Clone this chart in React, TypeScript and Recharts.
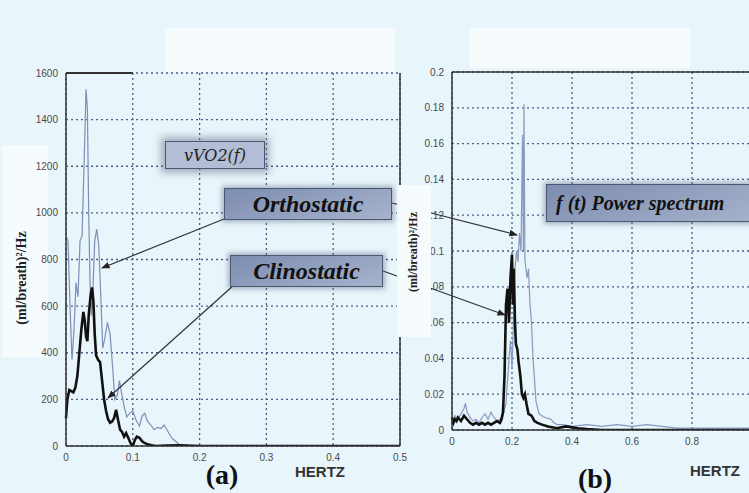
import React from "react";
import { LineChart, Line, XAxis, YAxis, CartesianGrid, ReferenceLine } from "recharts";

// panel (a): vVO2(f) spectra, frequency in Hz
const orthoA = [
  { f: 0, v: 900 }, { f: 0.003, v: 880 }, { f: 0.006, v: 600 }, { f: 0.009, v: 370 },
  { f: 0.012, v: 500 }, { f: 0.015, v: 700 }, { f: 0.018, v: 640 }, { f: 0.021, v: 880 },
  { f: 0.024, v: 900 }, { f: 0.027, v: 1200 }, { f: 0.03, v: 1530 }, { f: 0.032, v: 1450 },
  { f: 0.034, v: 1000 }, { f: 0.036, v: 700 }, { f: 0.038, v: 560 }, { f: 0.04, v: 650 },
  { f: 0.043, v: 880 }, { f: 0.046, v: 930 }, { f: 0.049, v: 860 }, { f: 0.052, v: 650 },
  { f: 0.055, v: 420 }, { f: 0.058, v: 460 }, { f: 0.062, v: 530 }, { f: 0.066, v: 480 },
  { f: 0.07, v: 330 }, { f: 0.073, v: 200 }, { f: 0.077, v: 220 }, { f: 0.08, v: 280 },
  { f: 0.083, v: 230 }, { f: 0.087, v: 170 }, { f: 0.091, v: 125 }, { f: 0.095, v: 140 },
  { f: 0.1, v: 150 }, { f: 0.105, v: 110 }, { f: 0.11, v: 85 }, { f: 0.114, v: 130 },
  { f: 0.118, v: 140 }, { f: 0.122, v: 105 }, { f: 0.127, v: 90 }, { f: 0.132, v: 70 },
  { f: 0.137, v: 80 }, { f: 0.142, v: 75 }, { f: 0.147, v: 90 }, { f: 0.151, v: 70 },
  { f: 0.156, v: 45 }, { f: 0.16, v: 30 }, { f: 0.165, v: 18 }, { f: 0.17, v: 5 },
  { f: 0.18, v: 2 }, { f: 0.2, v: 0 }, { f: 0.3, v: 0 }, { f: 0.4, v: 0 }, { f: 0.5, v: 0 },
];

const clinoA = [
  { f: 0, v: 120 }, { f: 0.002, v: 200 }, { f: 0.005, v: 240 }, { f: 0.008, v: 235 },
  { f: 0.011, v: 230 }, { f: 0.014, v: 250 }, { f: 0.017, v: 300 }, { f: 0.02, v: 400 },
  { f: 0.023, v: 500 }, { f: 0.026, v: 575 }, { f: 0.028, v: 540 }, { f: 0.03, v: 470 },
  { f: 0.032, v: 450 }, { f: 0.034, v: 560 }, { f: 0.037, v: 650 }, { f: 0.039, v: 680 },
  { f: 0.041, v: 620 }, { f: 0.043, v: 480 }, { f: 0.045, v: 390 }, { f: 0.048, v: 370 },
  { f: 0.051, v: 360 }, { f: 0.054, v: 280 }, { f: 0.057, v: 200 }, { f: 0.06, v: 150 },
  { f: 0.063, v: 115 }, { f: 0.066, v: 100 }, { f: 0.069, v: 105 }, { f: 0.072, v: 120 },
  { f: 0.075, v: 155 }, { f: 0.078, v: 110 }, { f: 0.081, v: 70 }, { f: 0.084, v: 60 },
  { f: 0.087, v: 40 }, { f: 0.09, v: 55 }, { f: 0.094, v: 30 }, { f: 0.097, v: 10 },
  { f: 0.1, v: 0 }, { f: 0.103, v: 25 }, { f: 0.106, v: 40 }, { f: 0.11, v: 35 },
  { f: 0.114, v: 20 }, { f: 0.118, v: 12 }, { f: 0.122, v: 8 }, { f: 0.128, v: 3 },
  { f: 0.135, v: 0 }, { f: 0.15, v: 2 }, { f: 0.17, v: 3 }, { f: 0.2, v: 0 }, { f: 0.5, v: 0 },
];

// panel (b): f(t) power spectra
const orthoB = [
  { f: 0, v: 0.004 }, { f: 0.01, v: 0.008 }, { f: 0.02, v: 0.006 }, { f: 0.03, v: 0.009 },
  { f: 0.04, v: 0.012 }, { f: 0.045, v: 0.015 }, { f: 0.05, v: 0.01 }, { f: 0.06, v: 0.007 },
  { f: 0.07, v: 0.005 }, { f: 0.08, v: 0.006 }, { f: 0.09, v: 0.004 }, { f: 0.1, v: 0.007 },
  { f: 0.11, v: 0.009 }, { f: 0.12, v: 0.006 }, { f: 0.13, v: 0.01 }, { f: 0.14, v: 0.007 },
  { f: 0.15, v: 0.005 }, { f: 0.16, v: 0.006 }, { f: 0.17, v: 0.008 }, { f: 0.18, v: 0.015 },
  { f: 0.19, v: 0.04 }, { f: 0.195, v: 0.05 }, { f: 0.2, v: 0.035 }, { f: 0.205, v: 0.06 },
  { f: 0.21, v: 0.09 }, { f: 0.215, v: 0.1 }, { f: 0.22, v: 0.094 }, { f: 0.225, v: 0.11 },
  { f: 0.23, v: 0.1 }, { f: 0.235, v: 0.165 }, { f: 0.238, v: 0.1 }, { f: 0.24, v: 0.182 },
  { f: 0.243, v: 0.095 }, { f: 0.25, v: 0.085 }, { f: 0.255, v: 0.09 }, { f: 0.26, v: 0.07 },
  { f: 0.265, v: 0.06 }, { f: 0.27, v: 0.04 }, { f: 0.275, v: 0.028 }, { f: 0.28, v: 0.016 },
  { f: 0.29, v: 0.009 }, { f: 0.3, v: 0.008 }, { f: 0.31, v: 0.007 }, { f: 0.32, v: 0.0065 },
  { f: 0.33, v: 0.006 }, { f: 0.34, v: 0.004 }, { f: 0.35, v: 0.003 }, { f: 0.37, v: 0.003 },
  { f: 0.4, v: 0.002 }, { f: 0.45, v: 0.003 }, { f: 0.5, v: 0.002 }, { f: 0.55, v: 0.003 },
  { f: 0.6, v: 0.002 }, { f: 0.65, v: 0.003 }, { f: 0.7, v: 0.002 }, { f: 0.75, v: 0.001 },
  { f: 0.8, v: 0.001 }, { f: 1, v: 0.001 },
];

const clinoB = [
  { f: 0, v: 0.007 }, { f: 0.005, v: 0.004 }, { f: 0.01, v: 0.006 }, { f: 0.015, v: 0.005 },
  { f: 0.02, v: 0.007 }, { f: 0.03, v: 0.005 }, { f: 0.04, v: 0.008 }, { f: 0.05, v: 0.006 },
  { f: 0.06, v: 0.004 }, { f: 0.07, v: 0.003 }, { f: 0.08, v: 0.004 }, { f: 0.09, v: 0.003 },
  { f: 0.1, v: 0.004 }, { f: 0.11, v: 0.003 }, { f: 0.12, v: 0.004 }, { f: 0.13, v: 0.003 },
  { f: 0.14, v: 0.004 }, { f: 0.15, v: 0.005 }, { f: 0.16, v: 0.004 }, { f: 0.165, v: 0.006 },
  { f: 0.17, v: 0.01 }, { f: 0.175, v: 0.03 }, { f: 0.18, v: 0.07 }, { f: 0.185, v: 0.079 },
  { f: 0.19, v: 0.06 }, { f: 0.195, v: 0.085 }, { f: 0.2, v: 0.098 }, { f: 0.203, v: 0.07 },
  { f: 0.206, v: 0.09 }, { f: 0.21, v: 0.06 }, { f: 0.213, v: 0.048 }, { f: 0.218, v: 0.045 },
  { f: 0.222, v: 0.038 }, { f: 0.228, v: 0.03 }, { f: 0.233, v: 0.02 }, { f: 0.238, v: 0.018 },
  { f: 0.243, v: 0.02 }, { f: 0.248, v: 0.015 }, { f: 0.255, v: 0.009 }, { f: 0.265, v: 0.008 },
  { f: 0.275, v: 0.005 }, { f: 0.285, v: 0.004 }, { f: 0.3, v: 0.003 }, { f: 0.32, v: 0.002 },
  { f: 0.35, v: 0.001 }, { f: 0.38, v: 0.002 }, { f: 0.42, v: 0.001 }, { f: 0.45, v: 0.0005 },
  { f: 0.5, v: 0 }, { f: 1, v: 0 },
];

const xTicksA = [0, 0.1, 0.2, 0.3, 0.4, 0.5];
const yTicksA = [0, 200, 400, 600, 800, 1000, 1200, 1400, 1600];
const xTicksB = [0, 0.2, 0.4, 0.6, 0.8];
const yTicksB = [0, 0.02, 0.04, 0.06, 0.08, 0.1, 0.12, 0.14, 0.16, 0.18, 0.2];

const tickFont = '"Liberation Sans Narrow", "Liberation Sans", Arial, sans-serif';
const serif = '"Liberation Serif", "Times New Roman", serif';
const tick = { fontSize: 10, fill: "#4a4a4a", fontFamily: tickFont };
const gridColor = "#4c5d86";
const axisLine = { stroke: "#333", strokeWidth: 1.5 };
const fmt = (v: number) => String(Number(v.toFixed(2)));

const boxBase: React.CSSProperties = {
  position: "absolute",
  background: "linear-gradient(160deg, #7d8db0, #a7b3cd)",
  border: "1px solid #4d5870",
  boxShadow: "0 0 5px 2px rgba(80,92,125,0.45)",
  display: "flex",
  alignItems: "center",
  justifyContent: "center",
  fontFamily: serif,
  fontWeight: "bold",
  fontStyle: "italic",
  color: "#111",
  whiteSpace: "nowrap",
  boxSizing: "border-box",
};

export default function App() {
  return (
    <div
      style={{
        position: "fixed",
        left: 0,
        top: 0,
        width: 749,
        height: 493,
        overflow: "hidden",
        background: "#e8f5fa",
      }}
    >
      <div style={{ position: "absolute", left: 165, top: 28, width: 230, height: 44, background: "#f6fcfe" }} />
      <div style={{ position: "absolute", left: 470, top: 28, width: 220, height: 40, background: "#f6fcfe" }} />
      <div style={{ position: "absolute", left: 2, top: 145, width: 46, height: 212, background: "#f6fcfe" }} />

      <div style={{ position: "absolute", left: 0, top: 0 }}>
        <LineChart width={420} height={493} margin={{ top: 73, right: 20, bottom: 27, left: 26 }}>
          <CartesianGrid stroke={gridColor} strokeDasharray="2 3" strokeWidth={1.3} />
          <XAxis
            dataKey="f"
            type="number"
            domain={[0, 0.5]}
            ticks={xTicksA}
            tickFormatter={fmt}
            tick={tick}
            tickLine={false}
            axisLine={axisLine}
            height={20}
            allowDuplicatedCategory={false}
          />
          <YAxis
            type="number"
            domain={[0, 1600]}
            ticks={yTicksA}
            tick={tick}
            tickLine={false}
            axisLine={axisLine}
            width={40}
            allowDataOverflow
          />
          <ReferenceLine x={0.5} stroke="#333" strokeWidth={1.5} />
          <ReferenceLine segment={[{ x: 0, y: 1600 }, { x: 0.1, y: 1600 }]} stroke="#333" strokeWidth={2} />
          <Line data={orthoA} dataKey="v" type="linear" stroke="#7e8eb6" strokeWidth={1.2} dot={false} isAnimationActive={false} />
          <Line data={clinoA} dataKey="v" type="linear" stroke="#111" strokeWidth={2.6} dot={false} isAnimationActive={false} />
        </LineChart>
      </div>

      <div style={{ position: "absolute", left: 400, top: 0 }}>
        <LineChart width={360} height={493} margin={{ top: 72, right: 8, bottom: 43, left: 12 }}>
          <CartesianGrid stroke={gridColor} strokeDasharray="2 3" strokeWidth={1.3} />
          <XAxis
            dataKey="f"
            type="number"
            domain={[0, 1]}
            ticks={xTicksB}
            tickFormatter={fmt}
            tick={tick}
            tickLine={false}
            axisLine={axisLine}
            height={20}
            allowDuplicatedCategory={false}
          />
          <YAxis
            type="number"
            domain={[0, 0.2]}
            ticks={yTicksB}
            tickFormatter={fmt}
            tick={tick}
            tickLine={false}
            axisLine={axisLine}
            width={40}
            allowDataOverflow
          />
          <ReferenceLine y={0.2} stroke="#333" strokeWidth={1.5} />
          <Line data={orthoB} dataKey="v" type="linear" stroke="#8a99c0" strokeWidth={1.2} dot={false} isAnimationActive={false} />
          <Line data={clinoB} dataKey="v" type="linear" stroke="#111" strokeWidth={2.6} dot={false} isAnimationActive={false} />
        </LineChart>
      </div>

      <svg width={749} height={493} style={{ position: "absolute", left: 0, top: 0, pointerEvents: "none" }}>
        <defs>
          <marker id="ah" viewBox="0 0 10 10" refX="9" refY="5" markerWidth="7" markerHeight="7" orient="auto">
            <path d="M0,1 L10,5 L0,9 z" fill="#222" />
          </marker>
        </defs>
        <g stroke="#333" strokeWidth={1.2} fill="none">
          <line x1={224} y1={219} x2={102} y2={268} markerEnd="url(#ah)" />
          <line x1={244} y1={276} x2={108} y2={398} markerEnd="url(#ah)" />
          <line x1={392} y1={203} x2={517} y2={235} markerEnd="url(#ah)" />
          <line x1={383} y1={271} x2={505} y2={315} markerEnd="url(#ah)" />
        </g>
      </svg>

      <div style={{ position: "absolute", left: 397, top: 185, width: 34, height: 152, background: "#f6fcfe" }} />

      <div
        style={{
          position: "absolute",
          left: 22,
          top: 278,
          transform: "translate(-50%, -50%) rotate(-90deg)",
          fontFamily: serif,
          fontWeight: "bold",
          fontSize: 14,
          color: "#222",
          whiteSpace: "nowrap",
        }}
      >
        (ml/breath)²/Hz
      </div>
      <div
        style={{
          position: "absolute",
          left: 413,
          top: 252,
          transform: "translate(-50%, -50%) rotate(-90deg)",
          fontFamily: serif,
          fontWeight: "bold",
          fontSize: 12,
          color: "#222",
          whiteSpace: "nowrap",
        }}
      >
        (ml/breath)²/Hz
      </div>

      <div
        style={{
          ...boxBase,
          left: 165,
          top: 141,
          width: 100,
          height: 28,
          background: "#b3bed6",
          boxShadow: "0 0 7px 4px rgba(95,105,135,0.5)",
          fontFamily: '"DejaVu Serif", serif',
          fontWeight: "normal",
          fontSize: 16,
          color: "#222",
        }}
      >
        vVO2(f)
      </div>
      <div style={{ ...boxBase, left: 224, top: 188, width: 168, height: 32, fontSize: 24 }}>Orthostatic</div>
      <div style={{ ...boxBase, left: 230, top: 255, width: 153, height: 32, fontSize: 24 }}>Clinostatic</div>
      <div
        style={{
          ...boxBase,
          left: 546,
          top: 184,
          width: 220,
          height: 38,
          fontSize: 20,
          justifyContent: "flex-start",
          paddingLeft: 9,
        }}
      >
        f (t) Power spectrum
      </div>

      <div style={{ position: "absolute", left: 320, top: 471, transform: "translate(-50%, -50%)", fontFamily: '"Liberation Sans", Arial, sans-serif', fontWeight: "bold", fontSize: 15, color: "#333" }}>
        HERTZ
      </div>
      <div style={{ position: "absolute", left: 715, top: 470, transform: "translate(-50%, -50%)", fontFamily: '"Liberation Sans", Arial, sans-serif', fontWeight: "bold", fontSize: 15, color: "#333" }}>
        HERTZ
      </div>
      <div style={{ position: "absolute", left: 222, top: 475, transform: "translate(-50%, -50%)", fontFamily: serif, fontWeight: "bold", fontSize: 28, color: "#111" }}>
        (a)
      </div>
      <div style={{ position: "absolute", left: 595, top: 479, transform: "translate(-50%, -50%)", fontFamily: serif, fontWeight: "bold", fontSize: 28, color: "#111" }}>
        (b)
      </div>
    </div>
  );
}
